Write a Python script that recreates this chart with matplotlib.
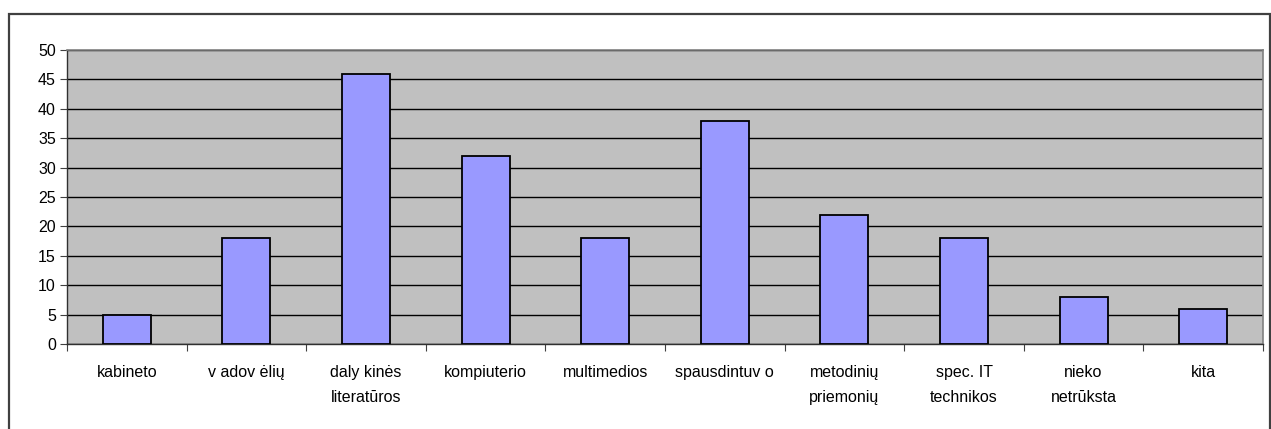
import matplotlib
matplotlib.use("Agg")
from matplotlib import pyplot as plt
from matplotlib.patches import Rectangle

categories = ["kabineto", "v adov ėlių", "daly kinės\nliteratūros", "kompiuterio", "multimedios",
              "spausdintuv o", "metodinių\npriemonių", "spec. IT\ntechnikos", "nieko\nnetrūksta", "kita"]
values = [5, 18, 46, 32, 18, 38, 22, 18, 8, 6]
y_ticks = list(range(0, 51, 5))

plt.rcParams['font.family'] = ['Liberation Sans', 'DejaVu Sans']

W, H = 1271, 429
fig = plt.figure(figsize=(W / 100, H / 100), dpi=100)
fig.patch.set_facecolor("white")

# outer chart frame (bottom edge is off the picture)
fig.patches.append(Rectangle((9 / W, -0.05), (1270 - 9) / W, 1.05 - 14 / H,
                             transform=fig.transFigure, fill=False,
                             edgecolor="#404040", linewidth=1.6))

left, right, top, bottom = 67, 1263, 50, 344
ax = fig.add_axes([left / W, 1 - bottom / H, (right - left) / W, (bottom - top) / H])
ax.set_facecolor("#C0C0C0")

x = list(range(len(categories)))
ax.bar(x, values, width=0.4, color="#9999FF", edgecolor="black", linewidth=1.3, zorder=3)

ax.set_xlim(-0.5, len(categories) - 0.5)
ax.set_ylim(0, 50)
ax.set_yticks(y_ticks)
ax.yaxis.grid(True, color="black", linewidth=1.0, zorder=1)
ax.set_axisbelow(True)

ax.set_xticks([i - 0.5 for i in range(len(categories) + 1)])
ax.set_xticklabels([])
ax.set_xticks(x, minor=True)
ax.set_xticklabels(categories, minor=True, fontsize=11.5, linespacing=1.85, va="top")
ax.tick_params(axis="x", which="minor", length=0, pad=15)
ax.tick_params(axis="x", which="major", length=5, color="#404040", direction="out")
ax.tick_params(axis="y", length=5, color="#404040", labelsize=11.5, pad=3)

for s in ("left", "bottom"):
    ax.spines[s].set_color("#303030")
    ax.spines[s].set_linewidth(1.0)
for s in ("top", "right"):
    ax.spines[s].set_color("#808080")
    ax.spines[s].set_linewidth(1.2)

fig.savefig("out.png", dpi=100)
